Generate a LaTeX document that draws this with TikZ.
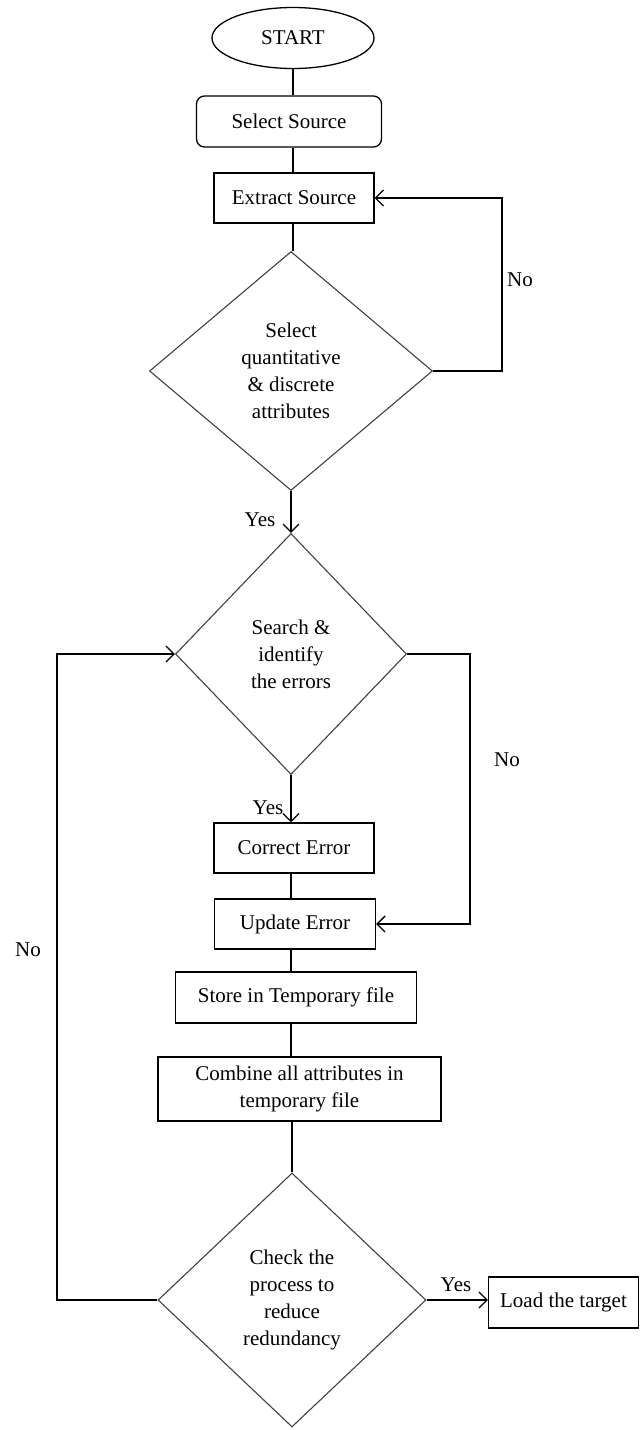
\documentclass[tikz,border=0pt]{standalone}
\usepackage{fontspec}
\setmainfont{Liberation Serif}
\usetikzlibrary{shapes.geometric,arrows.meta}
\begin{document}
\begin{tikzpicture}[x=1pt,y=-1pt,
  every node/.style={font=\fontsize{21}{27}\selectfont, inner sep=0pt},
  box/.style={draw=black, line width=1.3pt, rectangle, align=center},
  rbox/.style={box, rounded corners=8pt},
  term/.style={draw=black, line width=1.3pt, ellipse},
  dec/.style={draw=black!75, line width=1.1pt, diamond, align=center},
  conn/.style={draw=black, line width=1.3pt},
  arr/.style={conn, -{Straight Barb[length=8pt,width=16pt,line width=1.3pt]}},
  lbl/.style={font=\fontsize{21}{24}\selectfont}
]
\useasboundingbox (0,0) rectangle (640,1430);
\node[term, minimum width=162pt, minimum height=61pt] (start) at (293,38) {START};
\node[rbox, minimum width=185pt, minimum height=51pt] (sel) at (289,121.5) {Select Source};
\node[box, minimum width=160pt, minimum height=50pt] (ext) at (294,198) {Extract Source};
\node[dec, minimum width=283pt, minimum height=239pt] (d1) at (291,371) {Select\\quantitative\\\& discrete\\attributes};
\node[dec, minimum width=231pt, minimum height=241pt] (d2) at (291,654) {Search \&\\identify\\the errors};
\node[box, minimum width=160pt, minimum height=50pt] (ce) at (294,848) {Correct Error};
\node[box, minimum width=161pt, minimum height=50pt] (ue) at (295,924) {Update Error};
\node[box, minimum width=241pt, minimum height=51pt] (st) at (296,997.5) {Store in Temporary file};
\node[box, minimum width=283pt, minimum height=64pt] (cb) at (299.5,1089) {Combine all attributes in\\temporary file};
\node[dec, minimum width=268pt, minimum height=254pt] (d3) at (292,1300) {Check the\\process to\\reduce\\redundancy};
\node[box, minimum width=150pt, minimum height=51pt] (load) at (563.5,1302.5) {Load the target};

\coordinate (r1) at (502,371);
\coordinate (r1t) at (502,198);
\coordinate (r2) at (470,654);
\coordinate (r2b) at (470,924);
\coordinate (l1) at (57,1300);
\coordinate (l1t) at (57,654);

\draw[conn] (start.south) -- (start.south |- sel.north);
\draw[conn] (start.south |- sel.south) -- (start.south |- ext.north);
\draw[conn] (start.south |- ext.south) -- (start.south |- d1.north);
\draw[arr] (d1.south) -- (d2.north);
\draw[arr] (d2.south) -- (d2.south |- ce.north);
\draw[conn] (d2.south |- ce.south) -- (d2.south |- ue.north);
\draw[conn] (d2.south |- ue.south) -- (d2.south |- st.north);
\draw[conn] (d2.south |- st.south) -- (d2.south |- cb.north);
\draw[conn] (d3.north |- cb.south) -- (d3.north);
\draw[arr] (d1.east) -- (r1) -- (r1t) -- (ext.east);
\draw[arr] (d2.east) -- (r2) -- (r2b) -- (ue.east);
\draw[arr] (d3.west) -- (l1) -- (l1t) -- (d2.west);
\draw[arr] (d3.east) -- (d3.east -| load.west);

\node[lbl] (no1) at (520,280) {No};
\node[lbl] (no2) at (507,760) {No};
\node[lbl] (no3) at (28,950) {No};
\node[lbl] (yes1) at (260,520) {Yes};
\node[lbl] (yes2) at (268,808) {Yes};
\node[lbl] (yes3) at (456,1285) {Yes};
\end{tikzpicture}
\end{document}
